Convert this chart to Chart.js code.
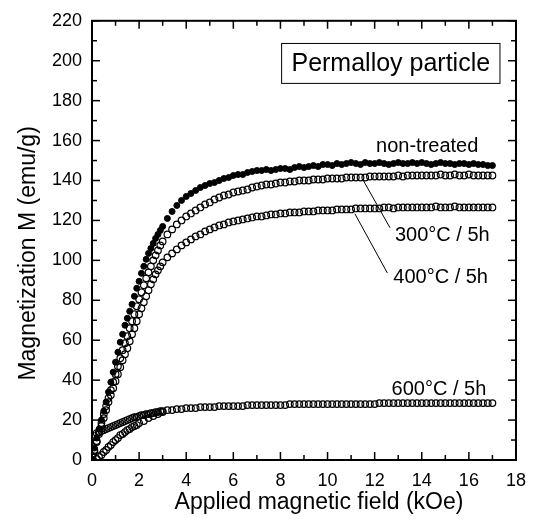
<!DOCTYPE html>
<html>
<head>
<meta charset="utf-8">
<script src="https://cdn.jsdelivr.net/npm/chart.js@4.4.0/dist/chart.umd.min.js"></script>
<style>
  html, body { margin: 0; padding: 0; background: #fff; }
  canvas { display: block; }
</style>
</head>
<body>
<canvas id="magChart" width="536" height="519"></canvas>
<script>
const FIELD_KOE = [
  0, 0.1, 0.2, 0.3, 0.4, 0.5, 0.6, 0.7, 0.8, 0.9,
  1.0, 1.1, 1.2, 1.3, 1.4, 1.5, 1.6, 1.7, 1.8, 1.9,
  2.0, 2.1, 2.2, 2.3, 2.4, 2.5, 2.6, 2.7, 2.8, 2.9,
  3.0,
  3.2, 3.4, 3.6, 3.8, 4.0, 4.2, 4.4, 4.6, 4.8, 5.0,
  5.2, 5.4, 5.6, 5.8, 6.0, 6.2, 6.4, 6.6, 6.8, 7.0,
  7.2, 7.4, 7.6, 7.8, 8.0, 8.2, 8.4, 8.6, 8.8, 9.0,
  9.2, 9.4, 9.6, 9.8, 10.0, 10.2, 10.4, 10.6, 10.8, 11.0,
  11.2, 11.4, 11.6, 11.8, 12.0, 12.2, 12.4, 12.6, 12.8, 13.0,
  13.2, 13.4, 13.6, 13.8, 14.0, 14.2, 14.4, 14.6, 14.8, 15.0,
  15.2, 15.4, 15.6, 15.8, 16.0, 16.2, 16.4, 16.6, 16.8, 17.0
];

const M_NON_TREATED = [
  0, 6, 11, 15.5, 20, 24.5, 29, 34, 39, 44,
  49, 54, 59, 63, 67.5, 71, 74.5, 78, 82, 86,
  89.5, 93.5, 97, 100.5, 103.5, 106, 108.5, 111, 113, 115,
  117,
  121, 124.5, 127.5, 130, 132, 133.5, 135, 136.5, 137.5, 138.5,
  139, 140, 141, 141.5, 142.5, 143, 143, 144, 144.5, 145,
  145, 145.5, 145, 145.5, 146, 146, 145.5, 146.5, 147, 146.5,
  147, 147.5, 147, 148, 148, 147.5, 148.5, 148, 148.5, 149,
  148.5, 148, 149, 148.5, 148.5, 149, 148.5, 148, 148.5, 149,
  148.5, 148.5, 149, 148.5, 149, 148.5, 148, 148.5, 149, 148.5,
  148.5, 148, 148.5, 148.5, 148, 148.5, 148, 148, 147.5, 147.5
];

const M_300C = [
  0, 5, 9.5, 14, 18.5, 23, 27, 31, 35, 39,
  43, 47, 51, 55, 58.5, 62, 66, 69.5, 73, 77,
  80.5, 84, 87.5, 91, 94, 97, 100, 102.5, 105, 107.5,
  109.5,
  113, 115.5, 118, 120, 122, 123.5, 125, 126.5, 128, 129,
  130.5, 131.5, 132.5, 133, 134, 134.5, 135, 135.5, 136.5, 137,
  137.5, 138, 138, 138.5, 139, 139, 139.5, 139.5, 140, 140,
  140, 140.5, 140.5, 140.5, 141, 141, 141, 141, 141.5, 141.5,
  141.5, 141.5, 141.5, 142, 142, 142, 142, 142, 142, 142.5,
  142, 142.5, 142.5, 142.5, 142.5, 142.5, 142.5, 142.5, 143, 142.5,
  142.5, 143, 142.5, 142.5, 143, 142.5, 142.5, 142.5, 142.5, 142.5
];

const M_400C = [
  0, 4.5, 9, 13, 17, 21, 25, 29, 32.5, 36,
  39.5, 43, 46.5, 50, 53, 56, 59.5, 63, 66, 69.5,
  73, 76, 79, 82, 85, 88, 90.5, 93, 95, 97,
  99,
  101.5, 103.5, 105.5, 107.5, 109, 110.5, 112, 113, 114.5, 115.5,
  116.5, 117.5, 118, 119, 119.5, 120, 120.5, 121, 121.5, 122,
  122, 122.5, 123, 123, 123.5, 123.5, 124, 124, 124, 124.5,
  124.5, 124.5, 125, 125, 125, 125, 125.5, 125.5, 125.5, 125.5,
  126, 126, 126, 126, 126, 126, 126.5, 126.5, 126, 126.5,
  126.5, 126.5, 126.5, 126.5, 126.5, 126.5, 126.5, 127, 126.5, 126.5,
  126.5, 127, 126.5, 126.5, 126.5, 126.5, 126.5, 126.5, 126.5, 126.5
];

const M_600C = [
  2, 12, 13.5, 14, 14.5, 15, 15.5, 16, 16.5, 17,
  17.5, 18, 18.5, 19, 19.5, 20, 20.5, 21, 21.5, 21.5,
  22, 22.5, 22.5, 23, 23, 23.5, 23.5, 24, 24, 24.5,
  24.5,
  25, 25, 25.5, 25.5, 26, 26, 26, 26.5, 26.5, 26.5,
  26.5, 27, 27, 27, 27, 27, 27, 27.5, 27.5, 27.5,
  27.5, 27.5, 27.5, 27.5, 27.5, 27.5, 28, 28, 28, 28,
  28, 28, 28, 28, 28, 28, 28, 28, 28, 28,
  28, 28, 28, 28, 28, 28.5, 28.5, 28.5, 28.5, 28.5,
  28.5, 28.5, 28.5, 28.5, 28.5, 28.5, 28.5, 28.5, 28.5, 28.5,
  28.5, 28.5, 28.5, 28.5, 28.5, 28.5, 28.5, 28.5, 28.5, 28.5
];

// lower branch of the 600°C curve near zero field
const FIELD_600C_LOW = [0.2, 0.3, 0.4, 0.5, 0.6, 0.7, 0.8, 0.9, 1.0, 1.1, 1.2, 1.3, 1.4, 1.5, 1.6, 1.7, 1.8, 1.9, 2.0, 2.2, 2.4, 2.6, 2.8, 3.0];
const M_600C_LOW = [0.5, 1.5, 2.5, 4, 5, 6.5, 7.5, 9, 10, 11, 12.5, 13, 14, 15, 15.5, 16.5, 17, 17.5, 18.5, 19.5, 21, 22, 23, 24];

const FONT = "'Liberation Sans', Arial, Helvetica, sans-serif";

function toPoints(xs, ys) {
  return xs.map((x, i) => ({ x, y: ys[i] }));
}

function openSeries(label, xs, ys) {
  return {
    label,
    data: toPoints(xs, ys),
    pointRadius: 3.3,
    pointBorderWidth: 1.2,
    pointBorderColor: "#000",
    pointBackgroundColor: "rgba(0,0,0,0)",
    showLine: false,
  };
}

function drawLine(ctx, x1, y1, x2, y2) {
  ctx.beginPath();
  ctx.moveTo(x1, y1);
  ctx.lineTo(x2, y2);
  ctx.stroke();
}

const framePlugin = {
  id: "frame",
  afterDatasetsDraw(chart) {
    const { ctx, chartArea: a, scales } = chart;
    const x = scales.x;
    const y = scales.y;
    const px = (v) => x.getPixelForValue(v);
    const py = (v) => y.getPixelForValue(v);
    ctx.save();
    ctx.strokeStyle = "#000";
    ctx.fillStyle = "#000";

    ctx.lineWidth = 1.5;
    for (let v = 0; v <= 18; v += 1) {
      const len = v % 2 === 0 ? 8 : 5;
      drawLine(ctx, px(v), a.bottom, px(v), a.bottom - len);
      drawLine(ctx, px(v), a.top, px(v), a.top + len);
    }
    for (let v = 0; v <= 220; v += 10) {
      const len = v % 20 === 0 ? 8 : 5;
      drawLine(ctx, a.left, py(v), a.left + len, py(v));
      drawLine(ctx, a.right, py(v), a.right - len, py(v));
    }
    ctx.lineWidth = 2;
    ctx.strokeRect(a.left, a.top, a.right - a.left, a.bottom - a.top);

    // title box
    ctx.lineWidth = 1;
    ctx.strokeRect(px(8.05), py(208.65), px(17.32) - px(8.05), py(188.65) - py(208.65));
    ctx.font = `25px ${FONT}`;
    ctx.textAlign = "center";
    ctx.textBaseline = "middle";
    ctx.fillText("Permalloy particle", (px(8.05) + px(17.32)) / 2, (py(208.65) + py(188.65)) / 2 + 1);

    // curve labels and leaders
    ctx.font = `20px ${FONT}`;
    ctx.textAlign = "left";
    ctx.textBaseline = "alphabetic";
    ctx.fillText("non-treated", px(12.06), py(154.5));
    ctx.fillText("300°C / 5h", px(12.86), py(109.65));
    ctx.fillText("400°C / 5h", px(12.79), py(88.85));
    ctx.fillText("600°C / 5h", px(12.72), py(32.5));
    ctx.lineWidth = 1;
    drawLine(ctx, px(11.52), py(140), px(12.65), py(116.35));
    drawLine(ctx, px(11.16), py(123.35), px(12.54), py(93.65));

    // axis titles
    ctx.font = `23px ${FONT}`;
    ctx.textAlign = "center";
    ctx.fillText("Applied magnetic field (kOe)", (a.left + a.right) / 2 + 15, chart.height - 10);
    ctx.translate(35, (a.top + a.bottom) / 2 + 13);
    ctx.rotate(-Math.PI / 2);
    ctx.fillText("Magnetization M (emu/g)", 0, 0);
    ctx.restore();
  },
};

function createChart() {
  const ctx = document.getElementById("magChart").getContext("2d");
  return new Chart(ctx, {
    type: "scatter",
    data: {
      datasets: [
        {
          label: "non-treated",
          data: toPoints(FIELD_KOE, M_NON_TREATED),
          pointRadius: 3,
          pointBorderWidth: 1,
          pointBorderColor: "#000",
          pointBackgroundColor: "#000",
          showLine: false,
        },
        openSeries("300°C / 5h", FIELD_KOE, M_300C),
        openSeries("400°C / 5h", FIELD_KOE, M_400C),
        openSeries("600°C / 5h", FIELD_KOE, M_600C),
        openSeries("600°C / 5h low", FIELD_600C_LOW, M_600C_LOW),
      ],
    },
    options: {
      responsive: false,
      animation: false,
      devicePixelRatio: 1,
      layout: { padding: { top: 20, right: 20, left: 0, bottom: 0 } },
      plugins: { legend: { display: false }, tooltip: { enabled: false } },
      scales: {
        x: {
          type: "linear",
          min: 0,
          max: 18,
          ticks: {
            stepSize: 2,
            color: "#000",
            font: { family: FONT, size: 18 },
            padding: 10,
            maxRotation: 0,
            autoSkip: false,
          },
          grid: { display: false, drawTicks: false },
          border: { display: false },
          afterFit: (scale) => {
            scale.height = 59;
          },
        },
        y: {
          type: "linear",
          min: 0,
          max: 220,
          ticks: {
            stepSize: 20,
            color: "#000",
            font: { family: FONT, size: 18 },
            padding: 10,
          },
          grid: { display: false, drawTicks: false },
          border: { display: false },
          afterFit: (scale) => {
            scale.width = 92;
          },
        },
      },
    },
    plugins: [framePlugin],
  });
}

createChart();
</script>
</body>
</html>
